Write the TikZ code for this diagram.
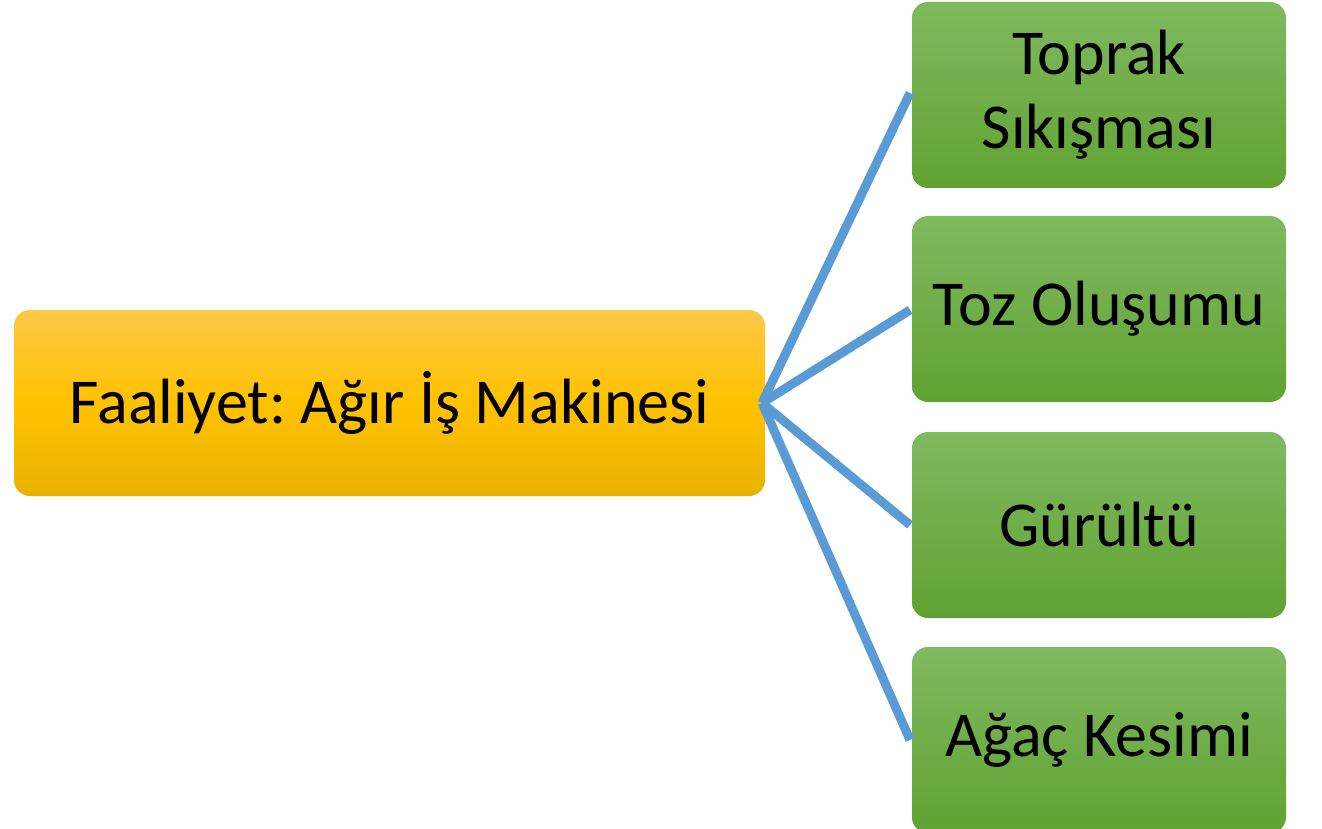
\documentclass[tikz,border=0pt]{standalone}
\usepackage{fontspec}
\setmainfont{Carlito}
\frenchspacing
\begin{document}
\begin{tikzpicture}[x=1pt,y=-1pt,
  box/.style={rectangle, rounded corners=16pt, minimum width=374pt, minimum height=186pt, inner sep=0pt, align=center, font=\fontsize{64}{74}\selectfont, text=black},
  greenbox/.style={box, top color=green1, bottom color=green2},
  yellowbox/.style={box, minimum width=751pt, top color=yel1, bottom color=yel3, middle color=yel2},
  link/.style={draw=linkblue, line width=9pt}]
\definecolor{green1}{HTML}{80BA60}
\definecolor{green2}{HTML}{60A232}
\definecolor{yel1}{HTML}{FFC847}
\definecolor{yel2}{HTML}{FFC200}
\definecolor{yel3}{HTML}{E8B300}
\definecolor{linkblue}{HTML}{5B9BD5}
\useasboundingbox (0,0) rectangle (1322,829);
\node[yellowbox] (src) at (389.5,403) {\raisebox{-3pt}{Faaliyet: Ağır İş Makinesi}};
\node[greenbox] (b1) at (1099,95) {\raisebox{-3pt}{Toprak}\\\raisebox{-3pt}{Sıkışması}};
\node[greenbox] (b2) at (1099,309) {\raisebox{-3pt}{Toz Oluşumu}};
\node[greenbox] (b3) at (1099,525) {\raisebox{-3pt}{Gürültü}};
\node[greenbox] (b4) at (1099,740) {\raisebox{-3pt}{Ağaç Kesimi}};
\coordinate (hub) at (762,403);
\coordinate (e1) at (910,93);
\coordinate (e2) at (910,310);
\coordinate (e3) at (910,525);
\coordinate (e4) at (910,740);
\draw[link] (hub) -- (e1);
\draw[link] (hub) -- (e2);
\draw[link] (hub) -- (e3);
\draw[link] (hub) -- (e4);
\end{tikzpicture}
\end{document}
